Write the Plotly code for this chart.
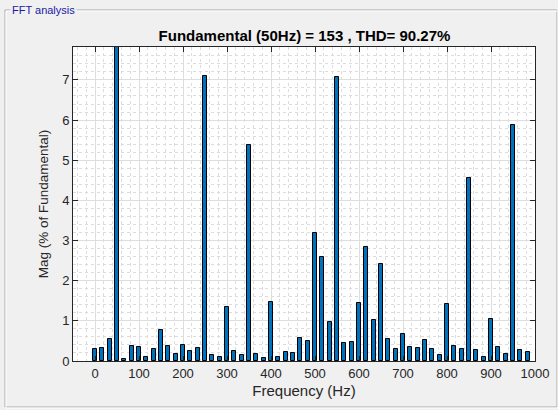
import plotly.graph_objects as go

# FFT bins (Hz): resolution 50/3 Hz, bins 0..59
bin_index = list(range(60))
freq_hz = [round(i * 50 / 3, 2) for i in bin_index]

mag_pct = [0.30, 0.33, 0.54, 100.0, 0.04, 0.37, 0.36, 0.09, 0.30, 0.77,
           0.37, 0.18, 0.40, 0.25, 0.32, 7.10, 0.14, 0.11, 1.34, 0.24,
           0.14, 5.38, 0.17, 0.07, 1.48, 0.10, 0.22, 0.21, 0.57, 0.50,
           3.18, 2.59, 0.96, 7.08, 0.45, 0.48, 1.45, 2.83, 1.02, 2.42,
           0.55, 0.31, 0.68, 0.36, 0.32, 0.53, 0.29, 0.16, 1.43, 0.38,
           0.30, 4.57, 0.27, 0.10, 1.04, 0.35, 0.17, 5.89, 0.28, 0.22]

x_ticks = [0, 100, 200, 300, 400, 500, 600, 700, 800, 900, 1000]
y_ticks = [0, 1, 2, 3, 4, 5, 6, 7]

title_text = "Fundamental (50Hz) = 153 , THD= 90.27%"
panel_text = "FFT analysis"

W, H = 558, 410
L, R, T, B = 73, 23, 47, 49
pw, ph = W - L - R, H - T - B

def px(x):
    return (x - L) / pw

def py(y):
    return (H - B - y) / ph

fig = go.Figure()
fig.add_trace(go.Bar(
    x=freq_hz, y=mag_pct, width=9,
    marker=dict(color="#0072BD", line=dict(color="#000000", width=1)),
))

axis_common = dict(
    showline=True, linecolor="#262626", linewidth=1, mirror="allticks",
    ticks="inside", ticklen=5, tickcolor="#262626", tickwidth=1,
    showgrid=True, gridcolor="#dedede", gridwidth=1,
    zeroline=False, automargin=False,
    tickfont=dict(family="Liberation Sans, Arial", size=13, color="#262626"),
)

fig.update_xaxes(
    range=[-50, 1000], tickvals=x_ticks,
    minor=dict(dtick=20, tick0=0, showgrid=True, griddash="dot",
               gridcolor="#dcdcdc", gridwidth=1, ticks=""),
    title=dict(text="Frequency (Hz)", standoff=5,
               font=dict(family="Liberation Sans, Arial", size=15, color="#262626")),
    **axis_common,
)
fig.update_yaxes(
    range=[0, 7.82], tickvals=y_ticks,
    minor=dict(dtick=0.2, tick0=0, showgrid=True, griddash="dot",
               gridcolor="#dcdcdc", gridwidth=1, ticks=""),
    title=dict(text="Mag (% of Fundamental)", standoff=10,
               font=dict(family="Liberation Sans, Arial", size=13.5, color="#262626")),
    **axis_common,
)

shapes = [
    # panel border (etched)
    dict(type="rect", xref="paper", yref="paper",
         x0=px(5), x1=px(557), y0=py(407), y1=py(10),
         line=dict(color="#a8a8a8", width=1), fillcolor="rgba(0,0,0,0)", layer="below"),
    dict(type="rect", xref="paper", yref="paper",
         x0=px(6), x1=px(558), y0=py(408), y1=py(11),
         line=dict(color="#ffffff", width=1), fillcolor="rgba(0,0,0,0)", layer="below"),
]

fig.update_layout(
    width=W, height=H,
    margin=dict(l=L, r=R, t=T, b=B),
    paper_bgcolor="#f0f0f0", plot_bgcolor="#ffffff",
    showlegend=False, bargap=0,
    title=dict(text="<b>" + title_text + "</b>", x=px(304.5), xref="paper", xanchor="center",
               y=1 - 36 / H, yref="container", yanchor="middle",
               font=dict(family="Liberation Sans, Arial", size=15, color="#000000")),
    shapes=shapes,
    annotations=[dict(text=panel_text, xref="paper", yref="paper",
                      x=px(10), y=py(10.5), xanchor="left", yanchor="middle",
                      showarrow=False, bgcolor="#f0f0f0", borderpad=1,
                      font=dict(family="Liberation Sans, Arial", size=11, color="#1a1aa6"))],
)

fig.write_html("out.html", config={"displayModeBar": False},
               post_script="document.body.style.margin='0px';document.body.style.overflow='hidden';")
